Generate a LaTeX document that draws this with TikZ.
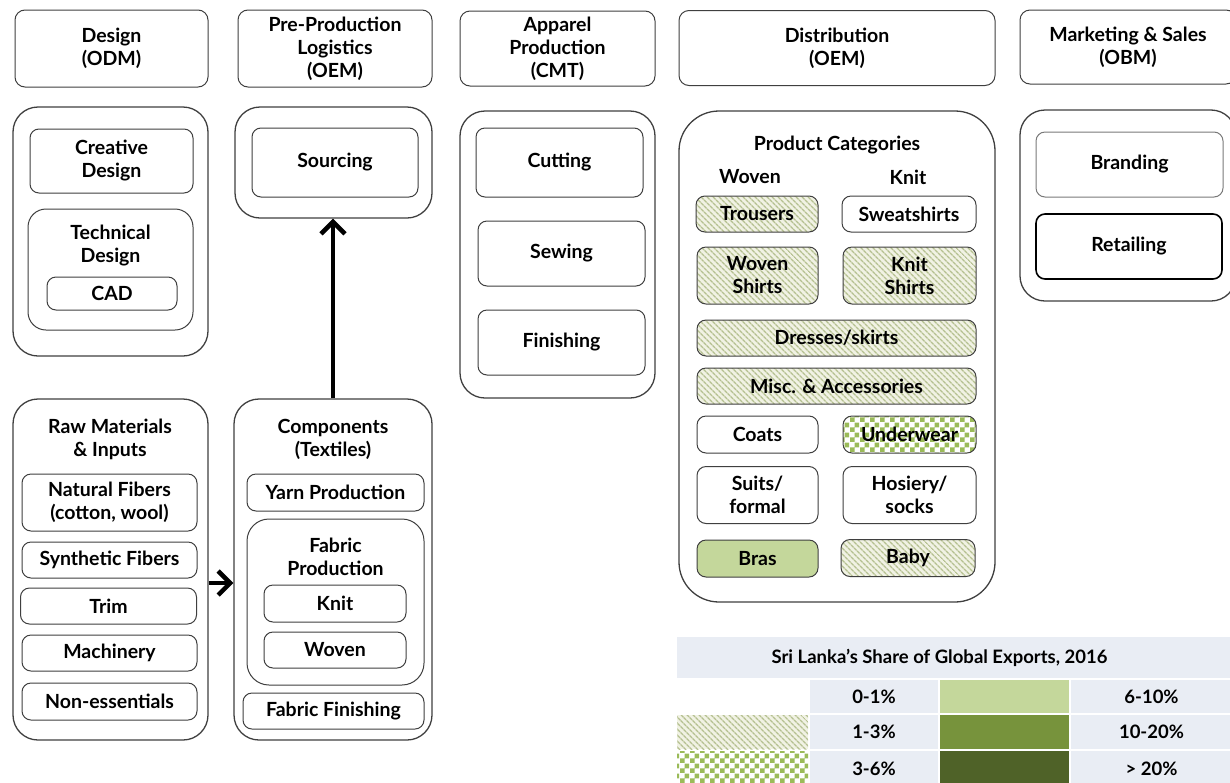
\documentclass[tikz,border=0pt]{standalone}
\usepackage{fontspec}
\setmainfont{Lato}
\usetikzlibrary{arrows.meta, patterns, patterns.meta, positioning}
\definecolor{linegray}{HTML}{3F3F3F}
\definecolor{hatchbg}{HTML}{F1F2E4}
\definecolor{hatchline}{HTML}{B5C090}
\definecolor{checkgreen}{HTML}{9BBB59}
\definecolor{lightgreen}{HTML}{C4D79B}
\definecolor{midgreen}{HTML}{77933C}
\definecolor{darkgreen}{HTML}{4F6228}
\definecolor{legendbg}{HTML}{E9EDF4}

\pgfdeclarepatternformonly{checkers}{\pgfpointorigin}{\pgfqpoint{10pt}{10pt}}{\pgfqpoint{10pt}{10pt}}{%
  \pgfpathrectangle{\pgfpointorigin}{\pgfqpoint{5pt}{5pt}}%
  \pgfpathrectangle{\pgfqpoint{5pt}{5pt}}{\pgfqpoint{5pt}{5pt}}%
  \pgfusepath{fill}}

\begin{document}
\begin{tikzpicture}[
    x=1pt, y=-1pt,
    wh/.style 2 args={minimum width=#1pt, minimum height=#2pt},
    heading/.style={font=\bfseries\fontsize{19.5}{23}\selectfont, align=center, inner sep=0pt},
    stage/.style={heading, rectangle, rounded corners=10pt, draw=linegray, line width=1pt},
    group/.style={rectangle, rounded corners=25pt, draw=linegray, line width=1.3pt},
    item/.style={heading, rectangle, rounded corners=9pt, draw=linegray, line width=1pt, fill=white},
    hatched/.style={item, preaction={fill=hatchbg}, pattern={Lines[angle=-45, distance=4pt, line width=1.4pt]}, pattern color=hatchline},
    checked/.style={item, preaction={fill=white}, pattern=checkers, pattern color=checkgreen},
    cell/.style={heading, rectangle, fill=legendbg, font=\bfseries\fontsize{18.5}{22}\selectfont},
    arrow/.style={-{Straight Barb[length=12pt, width=24pt]}, line width=4.5pt}
]
\useasboundingbox (0,0) rectangle (1230,782);

% Stages
\node[stage, wh={193}{77}] (hdesign) at (111.5,48.5) {Design\\(ODM)};
\node[stage, wh={194}{77}] (hpre) at (335,48.5) {Pre-Production\\Logistics\\(OEM)};
\node[stage, wh={195}{75}] (happ) at (557.5,48.5) {Apparel\\Production\\(CMT)};
\node[stage, wh={316}{75}] (hdist) at (837,48) {Distribution\\(OEM)};
\node[stage, wh={216}{74}] (hmkt) at (1128,47) {Marketing \& Sales\\(OBM)};

% Groups
\node[group, wh={195}{249}] (design) at (110.5,231.5) {};
\node[group, wh={197}{111}] (pre) at (333.5,162.5) {};
\node[group, wh={195}{287}] (app) at (557.5,254.5) {};
\node[group, wh={316}{491}, rounded corners=40pt] (dist) at (837,356.5) {};
\node[group, wh={216}{191}] (mkt) at (1128,205.5) {};
\node[group, wh={195}{341}] (raw) at (110.5,569.5) {};
\node[group, wh={198}{341}] (comp) at (333,569.5) {};

% Design
\node[item, wh={163}{64}] (creative) at (111.5,161) {Creative\\Design};
\node[item, wh={165}{121}, rounded corners=18pt] (technical) at (110.5,269.5) {};
\node[heading] (techtitle) at (110.5,246) {Technical\\Design};
\node[item, wh={130}{33}] (cad) at (112,293.5) {CAD};

% Pre-production
\node[item, wh={166}{69}] (sourcing) at (335,162.5) {Sourcing};

% Apparel production
\node[item, wh={167}{69}] (cutting) at (559.5,162.5) {Cutting};
\node[item, wh={167}{65}] (sewing) at (561.5,253.5) {Sewing};
\node[item, wh={167}{65}] (finishing) at (561.5,342.5) {Finishing};

% Distribution
\node[heading] (cattitle) at (837,145) {Product Categories};
\node[heading] (woventitle) at (750,177) {Woven};
\node[heading] (knittitle) at (908,177) {Knit};
\node[hatched, wh={122}{36}] (trousers) at (757,214) {Trousers};
\node[item, wh={134}{36}] (sweatshirts) at (909,214) {Sweatshirts};
\node[hatched, wh={121}{57}] (wshirts) at (757.5,275.5) {Woven\\Shirts};
\node[hatched, wh={133}{57}] (kshirts) at (909.5,275.5) {Knit\\Shirts};
\node[hatched, wh={279}{36}] (dresses) at (836.5,338) {Dresses/skirts};
\node[hatched, wh={279}{36}] (misc) at (836.5,386) {Misc. \& Accessories};
\node[item, wh={121}{37}] (coats) at (757.5,434.5) {Coats};
\node[checked, wh={133}{37}] (underwear) at (909.5,434.5) {Underwear};
\node[item, wh={121}{57}] (suits) at (757.5,495) {Suits/\\formal};
\node[item, wh={133}{57}] (hosiery) at (909.5,495) {Hosiery/\\socks};
\node[item, wh={121}{37}, fill=lightgreen] (bras) at (757.5,558.5) {Bras};
\node[hatched, wh={134}{37}] (baby) at (908,558) {Baby};

% Marketing
\node[item, wh={187}{65}, draw=linegray!70] (branding) at (1129.5,164.5) {Branding};
\node[item, wh={186}{65}, draw=black, line width=1.6pt] (retailing) at (1129,246.5) {Retailing};

% Raw materials
\node[heading] (rawtitle) at (110,439.5) {Raw Materials\\\& Inputs};
\node[item, wh={175}{57}] (natural) at (109.5,502.5) {Natural Fibers\\(cotton, wool)};
\node[item, wh={175}{36}] (synthetic) at (109.5,560) {Synthetic Fibers};
\node[item, wh={176}{36}] (trim) at (108.5,606) {Trim};
\node[item, wh={175}{36}] (machinery) at (109.5,653) {Machinery};
\node[item, wh={175}{37}] (nonessential) at (109.5,701.5) {Non-essentials};

% Components
\node[heading] (comptitle) at (333,439.5) {Components\\(Textiles)};
\node[item, wh={177}{37}] (yarn) at (335.5,492.5) {Yarn Production};
\node[item, wh={177}{166}, rounded corners=22pt] (fabric) at (335.5,602) {};
\node[heading] (fabrictitle) at (335.5,556.5) {Fabric\\Production};
\node[item, wh={142}{37}] (knit) at (335,603.5) {Knit};
\node[item, wh={142}{36}] (woven) at (335,650) {Woven};
\node[item, wh={181}{36}] (ffinishing) at (333.5,711) {Fabric Finishing};

% Legend
\node[cell, wh={555}{41}] (legendhead) at (954.5,657.5) {};
\node[cell, fill=none] (legendtitle) at (939.5,657.5) {Sri Lanka’s Share of Global Exports, 2016};
\node[cell, wh={128}{33}] (r1b) at (874,696.5) {0-1\%};
\node[cell, wh={129}{33}, fill=lightgreen] (r1c) at (1004.5,696.5) {};
\node[cell, wh={161}{33}] (r1d) at (1151.5,696.5) {6-10\%};
\node[cell, wh={131}{34}, fill=none, preaction={fill=hatchbg}, pattern={Lines[angle=-45, distance=4pt, line width=1.4pt]}, pattern color=hatchline] (r2a) at (742.5,732) {};
\node[cell, wh={128}{34}] (r2b) at (874,732) {1-3\%};
\node[cell, wh={129}{34}, fill=midgreen] (r2c) at (1004.5,732) {};
\node[cell, wh={161}{34}] (r2d) at (1151.5,732) {10-20\%};
\node[cell, wh={131}{36}, fill=none, preaction={fill=white}, pattern=checkers, pattern color=checkgreen] (r3a) at (742.5,769) {};
\node[cell, wh={128}{36}] (r3b) at (874,769) {3-6\%};
\node[cell, wh={129}{36}, fill=darkgreen] (r3c) at (1004.5,769) {};
\node[cell, wh={161}{36}] (r3d) at (1151.5,769) {> 20\%};

% Arrows
\draw[arrow] ([yshift=-13.5pt]raw.east) -- ([yshift=-13.5pt]comp.west);
\draw[arrow] (comp.north) -- (comp.north |- pre.south);

\end{tikzpicture}
\end{document}
